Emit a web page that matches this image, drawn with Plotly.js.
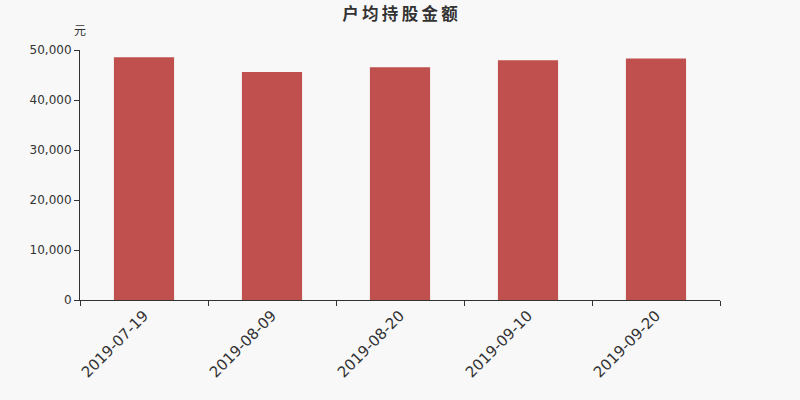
<!DOCTYPE html>
<html>
<head>
<meta charset="utf-8">
<script src="https://cdn.plot.ly/plotly-3.0.1.min.js"></script>
<style>
  html, body { margin: 0; padding: 0; background: #f8f8f8; }
  #chart { width: 800px; height: 400px; }
</style>
</head>
<body>
<div id="chart"></div>
<script>
// 户均持股金额 -----------------------------------------------------------------
const dates = ['2019-07-19', '2019-08-09', '2019-08-20', '2019-09-10', '2019-09-20'];
const amounts = [48530, 45600, 46530, 47970, 48300];
const yTicks = [0, 10000, 20000, 30000, 40000, 50000];
const titleText = '户均持股金额';

const cjk = '"Noto Sans CJK SC", "DejaVu Sans", sans-serif';
const latin = '"DejaVu Sans", sans-serif';

Plotly.newPlot('chart', [{
    type: 'bar',
    x: dates, y: amounts,
    marker: { color: '#c0504d', line: { width: 0 } },
    hoverinfo: 'x+y',
}], {
    width: 800, height: 400,
    paper_bgcolor: '#f8f8f8', plot_bgcolor: '#f8f8f8',
    font: { family: latin, color: '#333', size: 12 },
    margin: { l: 80, r: 80, t: 50, b: 100 },
    bargap: 0.53,
    showlegend: false,
    // thin spaces between the glyphs to mimic the wider spacing of the original
    title: { text: '<b>' + titleText.split('').join('\u2009') + '</b>',
             x: 0.5, xanchor: 'center', y: 0.965, yanchor: 'middle',
             font: { family: cjk, size: 16.5, color: '#333' } },
    xaxis: {
        type: 'category', showgrid: false, zeroline: false,
        showline: true, linecolor: '#333', linewidth: 1,
        ticks: 'outside', ticklen: 5, tickcolor: '#333', tickson: 'boundaries',
        tickangle: -45, tickfont: { family: latin, size: 15, color: '#333' },
    },
    yaxis: {
        range: [0, 50000], showgrid: false, zeroline: false,
        showline: true, linecolor: '#333', linewidth: 1,
        ticks: 'outside', ticklen: 5, tickcolor: '#333',
        tickvals: yTicks, tickformat: ',d', tickfont: { family: latin, size: 12, color: '#333' },
    },
    annotations: [{
        text: '元', xref: 'paper', yref: 'paper', x: 0, y: 1,
        xanchor: 'center', yanchor: 'middle', yshift: 21, showarrow: false,
        font: { family: cjk, size: 12, color: '#333' },
    }],
}, { displayModeBar: false, staticPlot: true });
</script>
</body>
</html>
